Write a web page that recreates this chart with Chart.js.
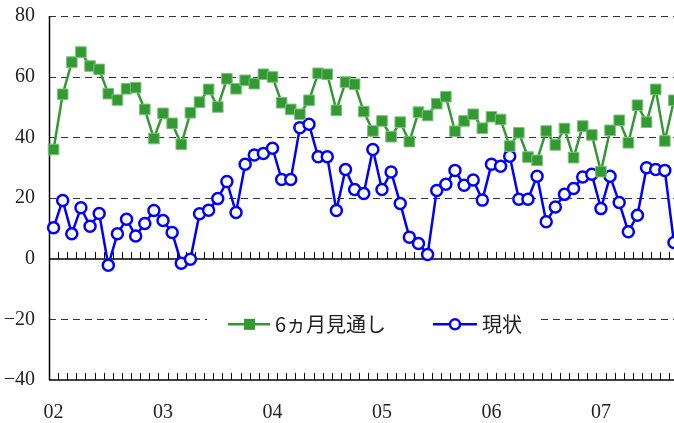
<!DOCTYPE html>
<html>
<head>
<meta charset="utf-8">
<script src="https://cdn.jsdelivr.net/npm/chart.js@4/dist/chart.umd.min.js"></script>
<style>
  html, body { margin: 0; padding: 0; background: #fff; overflow: hidden; }
  #wrap { width: 674px; height: 423px; overflow: hidden; }
</style>
</head>
<body>
<div id="wrap"><canvas id="chart" width="687" height="423"></canvas></div>
<script>
// 月次データ: 2002年1月〜2007年9月
const months = [];
for (let y = 2002; y <= 2007; y++) {
  for (let m = 1; m <= 12; m++) {
    if (y === 2007 && m > 9) break;
    months.push(y + '-' + String(m).padStart(2, '0'));
  }
}
const yearTicks = ['02', '03', '04', '05', '06', '07'];

const outlook = [
  36.0, 54.2, 64.8, 68.1, 63.5, 62.4, 54.4, 52.3, 56.0, 56.4, 49.2, 39.6,
  47.9, 44.6, 37.7, 48.1, 51.6, 55.8, 50.0, 59.3, 56.0, 58.8, 57.7, 60.8,
  59.9, 51.4, 49.2, 47.6, 52.2, 61.1, 60.8, 48.9, 58.2, 57.5, 48.5, 42.1,
  45.4, 40.2, 45.0, 38.6, 48.3, 47.2, 51.1, 53.4, 42.0, 45.4, 47.6, 43.0,
  46.8, 45.9, 37.1, 41.5, 33.5, 32.4, 42.1, 37.5, 42.9, 33.3, 43.7, 40.8,
  28.7, 42.3, 45.6, 38.2, 50.6, 45.0, 55.8, 38.8, 52.2,
];
const current = [
  10.2, 19.2, 8.2, 16.8, 10.7, 14.9, -2.2, 8.2, 13.0, 7.5, 11.6, 15.9,
  12.6, 8.6, -1.5, -0.2, 14.8, 16.0, 19.8, 25.4, 15.2, 31.1, 34.2, 34.7,
  36.4, 26.1, 26.1, 43.2, 44.3, 33.6, 33.6, 15.9, 29.4, 22.8, 21.5, 36.0,
  22.8, 28.6, 18.2, 7.1, 5.0, 1.4, 22.5, 24.5, 29.1, 24.2, 25.9, 19.3,
  31.1, 30.5, 33.8, 19.6, 19.6, 27.2, 12.2, 17.0, 21.2, 23.1, 26.9, 27.8,
  16.5, 27.2, 18.5, 8.9, 14.3, 30.0, 29.4, 29.1, 5.3,
];

const GREEN = '#339933';
const BLUE  = '#0000ff';
const TEXT  = '#222';
const NUM_FONT = '"Liberation Serif", "DejaVu Serif", serif';
const JP_FONT  = '"Noto Sans CJK JP", sans-serif';

// グリッド・軸・目盛りを自前で描く
const axesPlugin = {
  id: 'axes',
  beforeDatasetsDraw(chart) {
    const { ctx, chartArea: a, scales: { x, y } } = chart;
    const w = x.getPixelForValue(1) - x.getPixelForValue(0);
    ctx.save();
    ctx.strokeStyle = '#333';
    ctx.lineWidth = 1;
    ctx.setLineDash([7, 5]);
    [80, 60, 40, 20, -20].forEach(v => {
      const py = Math.round(y.getPixelForValue(v)) + 0.5;
      ctx.beginPath(); ctx.moveTo(a.left, py); ctx.lineTo(a.right, py); ctx.stroke();
    });
    ctx.setLineDash([]);
    ctx.strokeStyle = '#000';
    ctx.lineWidth = 1.5;
    [0, -40].forEach(v => {
      const py = Math.round(y.getPixelForValue(v));
      ctx.beginPath(); ctx.moveTo(a.left, py); ctx.lineTo(a.right, py); ctx.stroke();
      ctx.lineWidth = 1;
      for (let i = 1; i <= months.length; i++) {
        const px = Math.round(x.getPixelForValue(i) - w / 2) + 0.5;
        ctx.beginPath(); ctx.moveTo(px, py - 7); ctx.lineTo(px, py); ctx.stroke();
      }
      ctx.lineWidth = 1.5;
    });
    ctx.beginPath(); ctx.moveTo(a.left + 0.5, a.top); ctx.lineTo(a.left + 0.5, a.bottom); ctx.stroke();
    ctx.restore();
  },
  afterDraw(chart) {
    const { ctx, scales: { y } } = chart;
    const cy = y.getPixelForValue(-20) + 5;
    ctx.save();
    ctx.fillStyle = '#fff';
    ctx.fillRect(207, cy - 16, 334, 32);
    // 6ヵ月見通し
    ctx.strokeStyle = GREEN; ctx.lineWidth = 2.5;
    ctx.beginPath(); ctx.moveTo(228, cy); ctx.lineTo(270, cy); ctx.stroke();
    ctx.fillStyle = GREEN;
    ctx.fillRect(244, cy - 5.5, 11, 11);
    // 現状
    ctx.strokeStyle = BLUE;
    ctx.beginPath(); ctx.moveTo(433, cy); ctx.lineTo(477, cy); ctx.stroke();
    ctx.fillStyle = '#fff';
    ctx.beginPath(); ctx.arc(455, cy, 5, 0, Math.PI * 2); ctx.fill(); ctx.stroke();
    ctx.fillStyle = TEXT;
    ctx.textBaseline = 'middle';
    ctx.font = '20px ' + JP_FONT;
    ctx.fillText('6ヵ月見通し', 275, cy);
    ctx.fillText('現状', 482, cy);
    ctx.restore();
  },
};

new Chart(document.getElementById('chart'), {
  type: 'line',
  data: {
    labels: months,
    datasets: [
      {
        label: '6ヵ月見通し',
        data: outlook,
        borderColor: GREEN,
        borderWidth: 2.5,
        pointStyle: 'rect',
        pointRadius: 7.5,
        pointBackgroundColor: GREEN,
        pointBorderColor: '#7cc27c',
        pointBorderWidth: 1,
        tension: 0,
      },
      {
        label: '現状',
        data: current,
        borderColor: BLUE,
        borderWidth: 2.5,
        pointStyle: 'circle',
        pointRadius: 5.5,
        pointBackgroundColor: '#fff',
        pointBorderColor: BLUE,
        pointBorderWidth: 2.5,
        tension: 0,
      },
    ],
  },
  options: {
    responsive: false,
    animation: false,
    events: [],
    layout: { padding: { top: 16, left: 0, right: 0, bottom: 0 } },
    plugins: { legend: { display: false }, tooltip: { enabled: false } },
    scales: {
      x: {
        type: 'category',
        offset: true,
        grid: { display: false, drawTicks: false },
        border: { display: false },
        afterFit: s => { s.height = 43; s.paddingLeft = 0; s.paddingRight = 0; },
        ticks: {
          autoSkip: false,
          maxRotation: 0,
          minRotation: 0,
          padding: 21,
          color: TEXT,
          font: { family: NUM_FONT, size: 20 },
          callback: (v, i) => (i % 12 === 0 ? yearTicks[i / 12] : ''),
        },
      },
      y: {
        min: -40,
        max: 80,
        grid: { display: false, drawTicks: false },
        border: { display: false },
        afterFit: s => { s.width = 49; s.paddingTop = 0; s.paddingBottom = 0; },
        ticks: {
          stepSize: 20,
          padding: 14,
          color: TEXT,
          font: { family: NUM_FONT, size: 20 },
          callback: v => (v < 0 ? '−' + Math.abs(v) : String(v)),
        },
      },
    },
  },
  plugins: [axesPlugin],
});
</script>
</body>
</html>
